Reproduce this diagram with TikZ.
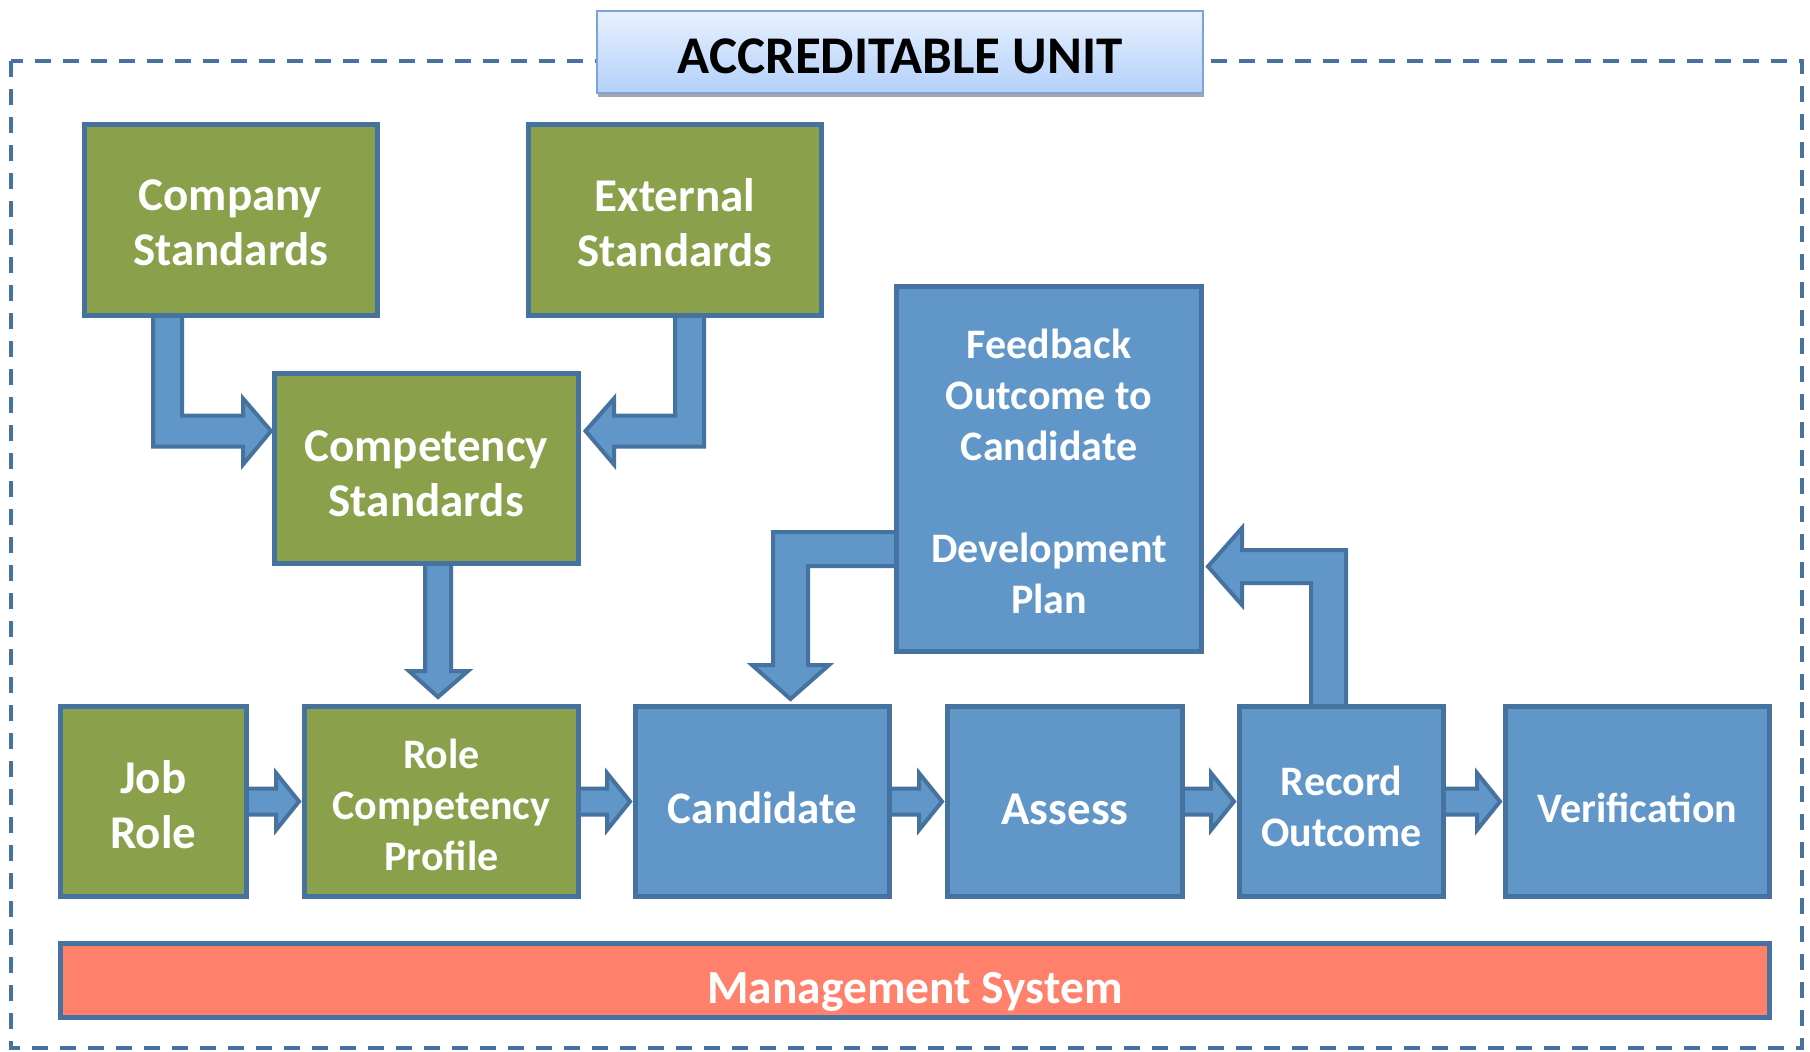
\documentclass[tikz,border=0pt]{standalone}
\usepackage{fontspec}
\setmainfont{Carlito}
\usetikzlibrary{calc,shadows}
\definecolor{greenc}{HTML}{8AA04A}
\definecolor{bluec}{HTML}{6196C8}
\definecolor{bordc}{HTML}{4672A0}
\definecolor{salmonc}{HTML}{FF806B}
\definecolor{titletop}{HTML}{E8F1FE}
\definecolor{titlebot}{HTML}{B3D0FA}
\definecolor{titlebord}{HTML}{7CA3DA}
\pgfdeclarelayer{background}
\pgfsetlayers{background,main}
\begin{document}
\begin{tikzpicture}[x=1pt,y=-1pt,
  box/.style={draw=bordc, line width=5pt, inner sep=0pt},
  gbox/.style={box, fill=greenc},
  bbox/.style={box, fill=bluec},
  lbl/.style={text=white, align=center, inner sep=0pt, font=\bfseries\fontsize{47}{55}\selectfont},
  slbl/.style={lbl, font=\bfseries\fontsize{42}{51}\selectfont},
  barrow/.style={fill=bluec, draw=bordc, line width=4pt, line join=miter},
  framebox/.style={draw=bordc, line width=3.5pt, dash pattern=on 16pt off 12pt},
  titlebox/.style={draw=titlebord, line width=2pt, top color=titletop, bottom color=titlebot,
    drop shadow={shadow xshift=1pt, shadow yshift=-4pt, opacity=0.35, fill=black}, inner sep=0pt},
  titlelbl/.style={font=\bfseries\fontsize{53}{60}\selectfont, text=black, inner sep=0pt}
]
\useasboundingbox (0,0) rectangle (1810,1052);

% boxes
\node[gbox, minimum width=293pt, minimum height=191pt] (company) at (230.5,219.5) {};
\node[gbox, minimum width=293pt, minimum height=191pt] (external) at (675,219.5) {};
\node[gbox, minimum width=304.5pt, minimum height=190.5pt] (competency) at (426.25,468.25) {};
\node[bbox, minimum width=305pt, minimum height=365pt] (feedback) at (1049,469) {};
\node[gbox, minimum width=185.5pt, minimum height=190pt] (job) at (153.25,801.5) {};
\node[gbox, minimum width=274pt, minimum height=190pt] (rcp) at (441.5,801.5) {};
\node[bbox, minimum width=254pt, minimum height=190pt] (candidate) at (762.5,801.5) {};
\node[bbox, minimum width=235pt, minimum height=190pt] (assess) at (1065,801.5) {};
\node[bbox, minimum width=204pt, minimum height=190pt] (record) at (1341.5,801.5) {};
\node[bbox, minimum width=264pt, minimum height=190pt] (verif) at (1637.5,801.5) {};
\node[box, fill=salmonc, minimum width=1709pt, minimum height=74pt] (mgmt) at (915,980.5) {};
\node[titlebox, minimum width=606pt, minimum height=81.5pt] (title) at (900,52) {};

% texts
\node[lbl] (company-t) at ([yshift=-3.5pt]company.center) {Company\\Standards};
\node[lbl] (external-t) at ([yshift=-3.5pt]external.center) {External\\Standards};
\node[lbl] (competency-t) at ([yshift=-5.5pt]competency.center) {Competency\\Standards};
\node[slbl] (feedback-t) at ([yshift=-2.5pt]feedback.center) {Feedback\\Outcome to\\Candidate\\[51pt]Development\\Plan};
\node[lbl] (job-t) at ([yshift=-3.5pt]job.center) {Job\\Role};
\node[slbl] (rcp-t) at ([yshift=-3.5pt]rcp.center) {Role\\Competency\\Profile};
\node[lbl, font=\bfseries\fontsize{45}{53}\selectfont] (candidate-t) at ([yshift=-6.5pt]candidate.center) {Candidate};
\node[lbl] (assess-t) at ([yshift=-7.5pt]assess.center) {Assess};
\node[slbl] (record-t) at ([yshift=-4.5pt]record.center) {Record\\Outcome};
\node[slbl] (verif-t) at ([yshift=-6pt]verif.center) {Verification};
\node[lbl, font=\bfseries\fontsize{47.5}{55}\selectfont] (mgmt-t) at ([yshift=-11pt]mgmt.center) {Management System};
\node[titlelbl] (title-t) at ([yshift=-4pt]title.center) {ACCREDITABLE UNIT};

\begin{pgfonlayer}{background}
\draw[framebox] (11,61) rectangle (1802,1048);
% Company -> Competency
\draw[barrow] (153,315) -- (182,315) -- (182,415.5) -- (243,415.5) -- (243,398.5) -- (271,431) -- (243,464.5) -- (243,446.5) -- (153,446.5) -- cycle;
% External -> Competency
\draw[barrow] (675,315) -- (704,315) -- (704,446.5) -- (614,446.5) -- (614,464.5) -- (585.5,431) -- (614,398.5) -- (614,415.5) -- (675,415.5) -- cycle;
% Competency -> Role Competency Profile
\draw[barrow] (425,563.5) -- (451,563.5) -- (451,671) -- (468,671) -- (438,697) -- (409,671) -- (425,671) -- cycle;
% Feedback -> Candidate
\draw[barrow] (896.5,532) -- (773,532) -- (773,665) -- (752,665) -- (790.5,699) -- (829,665) -- (808,665) -- (808,566) -- (896.5,566) -- cycle;
% Record Outcome -> Feedback
\draw[barrow] (1311,706.5) -- (1311,583) -- (1242,583) -- (1242,605) -- (1208,566.5) -- (1242,528) -- (1242,550) -- (1346,550) -- (1346,706.5) -- cycle;
% bottom row
\foreach \a/\b in {job/rcp, rcp/candidate, candidate/assess, assess/record, record/verif}
  \draw[barrow] let \p1=(\a.east), \p2=(\b.west) in
    (\x1-6pt,\y1+13pt) -- (\x2-26pt,\y1+13pt) -- (\x2-26pt,\y1+28.5pt) -- (\x2-3pt,\y1)
    -- (\x2-26pt,\y1-28.5pt) -- (\x2-26pt,\y1-13pt) -- (\x1-6pt,\y1-13pt) -- cycle;
\end{pgfonlayer}
\end{tikzpicture}
\end{document}
